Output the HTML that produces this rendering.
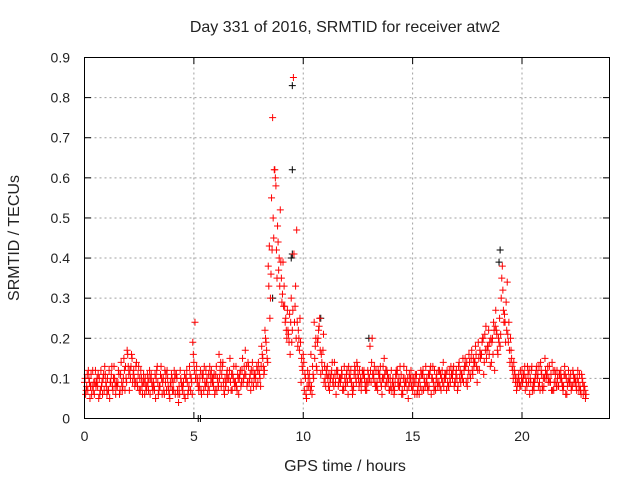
<!DOCTYPE html>
<html><head><meta charset="utf-8"><style>
body{margin:0;background:#fff;}
svg text{font-family:"Liberation Sans",sans-serif;font-size:14px;fill:#222;}
svg text.big{font-size:16px;}
</style></head><body>
<svg id="chart" width="640" height="480" xmlns="http://www.w3.org/2000/svg">
<rect width="640" height="480" fill="#fff"/>
<g id="grid"></g>
<g id="axes"></g>
<g id="pts"></g>
<rect x="84.5" y="57.5" width="525" height="361" fill="none" stroke="#000" stroke-width="1"/>
<text class="big" x="345" y="32" text-anchor="middle">Day 331 of 2016, SRMTID for receiver atw2</text>
<text class="big" x="345" y="471" text-anchor="middle">GPS time / hours</text>
<text class="big" x="0" y="0" text-anchor="middle" transform="translate(19,238) rotate(-90)">SRMTID / TECUs</text>
</svg>
<script>
const xTicks=[0,5,10,15,20];
const yTicks=[0,0.1,0.2,0.3,0.4,0.5,0.6,0.7,0.8,0.9];
const yTickLabels=["0","0.1","0.2","0.3","0.4","0.5","0.6","0.7","0.8","0.9"];
const sampleStep=0.15;
const seriesA=[9,7,11,6,8,12,7,10,9,13,8,11,15,17,10,12,9,7,11,8,6,9,12,8,10,7,5,9,11,6,8,10,13,19,11,8,10,12,7,9,11,16,13,8,10,7,9,6,12,17,13,9,11,14,18,22,38,55,62,44,35,28,22,30,24,18,9,7,12,16,24,19,11,9,13,10,8,11,9,7,12,10,8,14,9,11,7,18,10,8,11,13,9,7,10,12,8,6,9,11,7,9,6,11,13,8,10,7,9,12,10,8,11,9,13,11,15,12,17,14,19,16,21,18,14,12,16,30,26,21,17,12,9,8,11,13,9,7,10,14,8,11,9,7,12,10,8,6,9,11,7,8,6];
const seriesB=[6,10,8,12,5,9,11,7,13,8,12,9,7,13,16,8,11,10,6,9,11,7,9,13,6,10,8,12,7,10,6,9,7,14,9,12,7,10,11,8,7,12,9,11,15,10,8,11,9,13,10,12,8,11,15,19,43,75,58,40,31,25,19,22,33,20,13,10,8,6,18,22,14,10,8,12,11,8,12,10,6,9,13,11,7,10,12,9,13,7,9,15,11,8,6,12,9,13,7,10,10,6,8,7,10,12,9,11,8,14,7,10,12,12,10,15,9,14,11,16,12,20,23,16,20,27,19,38,19,24,13,9,11,12,7,9,13,10,8,11,15,9,7,12,8,10,13,9,7,10,12,6,8];
const seriesC=[8,5,7,9,6,10,8,5,7,9,6,8,10,7,9,13,7,6,8,10,8,5,7,6,9,7,10,6,4,8,5,7,9,24,8,6,9,8,12,6,9,8,6,10,7,9,11,8,13,9,7,10,12,8,11,15,30,45,35,52,28,20,16,85,47,25,16,5,9,11,13,25,17,12,7,9,6,10,7,9,11,6,10,8,12,7,9,20,8,11,6,8,10,7,9,8,6,10,5,8,6,8,11,9,7,6,12,8,7,10,9,13,8,7,9,12,8,10,13,9,15,11,17,13,24,21,18,27,22,14,10,7,8,10,9,6,8,12,9,7,10,13,7,9,11,8,6,10,8,9,7,10,5];
const seriesD=[10,12,6,9,11,8,13,7,11,10,9,14,12,16,13,10,8,12,9,11,10,8,13,11,7,12,9,7,10,12,9,12,11,16,13,10,11,9,13,10,13,10,14,9,12,11,13,10,15,11,9,14,10,12,16,20,33,42,60,37,29,24,21,19,28,22,15,11,10,8,15,20,16,13,10,11,14,12,10,13,9,12,11,13,10,12,9,12,11,9,13,10,12,10,8,11,13,10,12,9,8,11,10,12,9,11,13,10,12,9,11,12,10,11,14,10,13,16,12,18,15,19,17,22,19,23,20,35,24,19,15,11,10,10,13,11,12,9,11,12,10,13,11,9,10,12,11,8,11,9,10,7,8];
const seriesE=[7,9,12,8,10,6,9,12,8,6,11,7,13,11,15,9,13,8,10,7,9,11,6,10,12,8,11,10,6,9,11,6,10,12,10,7,13,6,9,11,10,14,7,12,9,13,7,12,10,8,11,8,13,10,13,17,25,50,42,33,39,22,26,27,20,17,12,6,11,13,20,23,12,8,11,14,9,9,11,8,13,8,12,10,9,8,11,14,9,12,8,11,9,12,7,9,11,8,10,12,9,7,12,10,8,13,7,9,11,8,12,9,13,10,12,9,14,11,15,13,17,20,15,19,16,22,25,32,29,17,12,10,9,9,10,12,7,11,13,8,12,10,14,11,8,9,11,12,8,10,9,11,7];
const seriesF=[11,8,9,10,7,11,6,9,10,8,7,10,9,12,11,14,10,9,7,12,7,10,8,9,11,6,7,11,8,7,10,8,6,10,7,11,8,11,10,7,8,11,10,7,11,8,10,9,11,14,12,11,9,13,12,14,36,62,48,39,33,27,24,41,24,19,14,8,7,10,12,17,21,11,9,10,12,10,8,11,10,7,9,12,11,9,10,11,12,10,10,12,7,9,11,10,7,9,8,10,11,9,7,8,11,10,8,12,10,11,8,11,9,8,11,13,10,15,14,12,16,14,18,20,22,17,21,24,34,20,14,8,12,11,8,10,9,13,7,10,11,9,12,8,11,7,10,9,12,8,11,9,6];
const blackTimes=[9.5,9.5,9.45,9.5,19.0,18.95,10.8,8.6,13.0,5.2,5.3];
const blackValues=[0.83,0.62,0.40,0.41,0.42,0.39,0.25,0.30,0.20,0.0,0.0];

const X=t=>84.5+t*(525/24);
const Y=v=>418.5-v*(361/0.9);
const NS="http://www.w3.org/2000/svg";
function mk(tag,attrs,parent){const e=document.createElementNS(NS,tag);for(const k in attrs)e.setAttribute(k,attrs[k]);parent.appendChild(e);return e;}
const grid=document.getElementById('grid'),axes=document.getElementById('axes'),pts=document.getElementById('pts');
xTicks.forEach(t=>{
  const x=X(t);
  if(t>0){const g=mk('line',{x1:x,y1:57.5,x2:x,y2:418.5,stroke:'#a0a0a0','stroke-dasharray':'2,3'},grid);
  
  }
  mk('line',{x1:x,y1:418.5,x2:x,y2:412,stroke:'#000'},axes);
  mk('line',{x1:x,y1:57.5,x2:x,y2:64,stroke:'#000'},axes);
  const tx=mk('text',{x:x,y:441,'text-anchor':'middle'},axes);tx.textContent=t;
  
  
});
yTicks.forEach((v,i)=>{
  const y=Y(v);
  if(v>0&&v<0.9){const g=mk('line',{x1:84.5,y1:y,x2:609.5,y2:y,stroke:'#a0a0a0','stroke-dasharray':'2,3'},grid);
  
  }
  mk('line',{x1:84.5,y1:y,x2:91,y2:y,stroke:'#000'},axes);
  mk('line',{x1:609.5,y1:y,x2:603,y2:y,stroke:'#000'},axes);
  const tx=mk('text',{x:70,y:y+5,'text-anchor':'end'},axes);tx.textContent=yTickLabels[i];
  
  
});
function plus(t,v,col,name){
  const x=X(t),y=Y(v);
  const p=mk('path',{d:`M${x-3.5},${y}H${x+3.5}M${x},${y-3.5}V${y+3.5}`,stroke:col,'stroke-width':1,fill:'none'},pts);
  
  
}
blackTimes.forEach((t,i)=>plus(t,blackValues[i],'#000','black-point'));
[[seriesA,0],[seriesD,0.025],[seriesB,0.05],[seriesE,0.075],[seriesC,0.1],[seriesF,0.125]].forEach(([s,off])=>{
  s.forEach((v,i)=>plus(i*sampleStep+off,v/100,'#ff0000','red-point'));
});
</script>
</body></html>
